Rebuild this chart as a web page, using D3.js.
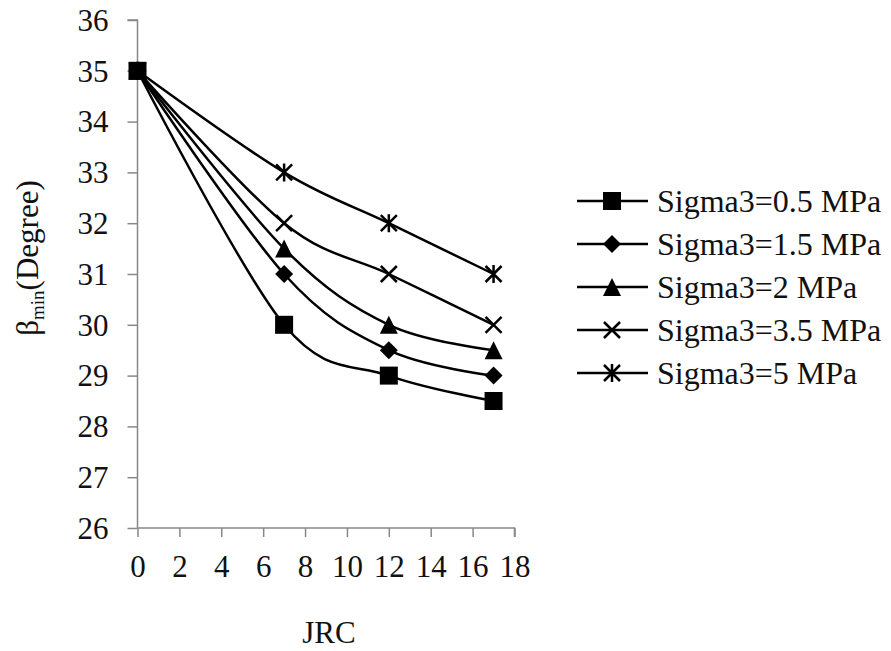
<!DOCTYPE html>
<html>
<head>
<meta charset="utf-8">
<script src="https://cdn.jsdelivr.net/npm/d3@7"></script>
<style>
  html, body { margin: 0; padding: 0; background: #fff; }
</style>
</head>
<body>
<div id="chart"></div>
<script>
// DATA
const jrc = [0, 7, 12, 17];
const seriesNames = ["Sigma3=0.5 MPa", "Sigma3=1.5 MPa", "Sigma3=2 MPa", "Sigma3=3.5 MPa", "Sigma3=5 MPa"];
const sigma05 = [35, 30, 29, 28.5];
const sigma15 = [35, 31, 29.5, 29];
const sigma2  = [35, 31.5, 30, 29.5];
const sigma35 = [35, 32, 31, 30];
const sigma5  = [35, 33, 32, 31];
const markers = ["square", "diamond", "triangle", "x", "star"];
const xTicks = [0, 2, 4, 6, 8, 10, 12, 14, 16, 18];
const yTicks = [26, 27, 28, 29, 30, 31, 32, 33, 34, 35, 36];

const allValues = [sigma05, sigma15, sigma2, sigma35, sigma5];

// LAYOUT
const width  = 891;
const height = 651;
const plot   = { left: 137.5, right: 514.5, top: 20, bottom: 528 };
const font   = 'Liberation Serif';

const svg = d3.select('#chart').append('svg')
    .attr('width', width)
    .attr('height', height)
    .style('font-family', font);

const x = d3.scaleLinear().domain([0, 18]).range([plot.left, plot.right]);
const y = d3.scaleLinear().domain([26, 36]).range([plot.bottom, plot.top]);

const axisColor = '#888';

// y axis
const yAxis = svg.append('g')
    .attr('transform', `translate(${plot.left},0)`)
    .call(d3.axisLeft(y).tickValues(yTicks).tickSize(10).tickPadding(19).tickFormat(d3.format('d')));
yAxis.attr('font-family', font).attr('font-size', 31);
yAxis.select('.domain').attr('stroke', axisColor).attr('stroke-width', 1.5).attr('d', `M-10,${plot.top}H0V${plot.bottom}`);
yAxis.selectAll('.tick line').attr('stroke', axisColor).attr('stroke-width', 1.5);
yAxis.selectAll('.tick text').attr('dy', '0.33em').attr('fill', '#111');

// x axis
const xAxis = svg.append('g')
    .attr('transform', `translate(0,${plot.bottom})`)
    .call(d3.axisBottom(x).tickValues(xTicks).tickSize(9).tickPadding(18).tickFormat(d3.format('d')));
xAxis.attr('font-family', font).attr('font-size', 31);
xAxis.select('.domain').attr('stroke', axisColor).attr('stroke-width', 1.5).attr('d', `M${plot.left},0H${plot.right}V9`);
xAxis.selectAll('.tick line').attr('stroke', axisColor).attr('stroke-width', 1.5);
xAxis.selectAll('.tick text').attr('fill', '#111');

// axis titles
const yTitle = svg.append('text')
    .attr('transform', 'translate(38,258) rotate(-90)')
    .attr('text-anchor', 'middle')
    .attr('fill', '#111')
    .attr('font-family', font)
    .attr('font-size', 31);
yTitle.append('tspan').text('β');
yTitle.append('tspan').text('min').attr('font-size', 19).attr('dy', 6);
yTitle.append('tspan').text('(Degree)').attr('dy', -6);

svg.append('text')
    .attr('x', 329)
    .attr('y', 643)
    .attr('text-anchor', 'middle')
    .attr('fill', '#111')
    .attr('font-family', font)
    .attr('font-size', 31)
    .text('JRC');

// markers
function drawMarker(g, type, cx, cy) {
    const s = 9;
    if (type === 'square') {
        g.append('rect').attr('x', cx - s).attr('y', cy - s).attr('width', 2 * s).attr('height', 2 * s).attr('fill', '#000');
    } else if (type === 'diamond') {
        g.append('path').attr('d', `M${cx},${cy - s}L${cx + s},${cy}L${cx},${cy + s}L${cx - s},${cy}Z`).attr('fill', '#000');
    } else if (type === 'triangle') {
        g.append('path').attr('d', `M${cx},${cy - s}L${cx + s},${cy + s}L${cx - s},${cy + s}Z`).attr('fill', '#000');
    } else if (type === 'x') {
        g.append('path').attr('d', `M${cx - 8},${cy - 8}L${cx + 8},${cy + 8}M${cx - 8},${cy + 8}L${cx + 8},${cy - 8}`)
            .attr('stroke', '#000').attr('stroke-width', 2.5).attr('fill', 'none');
    } else {
        g.append('path').attr('d', `M${cx - 8},${cy - 8}L${cx + 8},${cy + 8}M${cx - 8},${cy + 8}L${cx + 8},${cy - 8}M${cx},${cy - 9}V${cy + 9}`)
            .attr('stroke', '#000').attr('stroke-width', 2.5).attr('fill', 'none');
    }
}

const line = d3.line()
    .x(d => x(d[0]))
    .y(d => y(d[1]))
    .curve(d3.curveCatmullRom.alpha(0));

const seriesG = svg.append('g');
allValues.forEach((vals, i) => {
    const pts = jrc.map((j, k) => [j, vals[k]]);
    seriesG.append('path')
        .datum(pts)
        .attr('d', line)
        .attr('fill', 'none')
        .attr('stroke', '#000')
        .attr('stroke-width', 2.5);
});
allValues.forEach((vals, i) => {
    jrc.forEach((j, k) => drawMarker(seriesG, markers[i], x(j), y(vals[k])));
});

// legend
const legend = svg.append('g');
seriesNames.forEach((name, i) => {
    const ly = 201 + i * 43;
    legend.append('line')
        .attr('x1', 577).attr('x2', 648)
        .attr('y1', ly).attr('y2', ly)
        .attr('stroke', '#000').attr('stroke-width', 2.5);
    drawMarker(legend, markers[i], 612, ly);
    legend.append('text')
        .attr('x', 657)
        .attr('y', ly + 11)
        .attr('fill', '#111')
        .attr('font-family', font)
        .attr('font-size', 32)
        .text(name);
});
</script>
</body>
</html>
